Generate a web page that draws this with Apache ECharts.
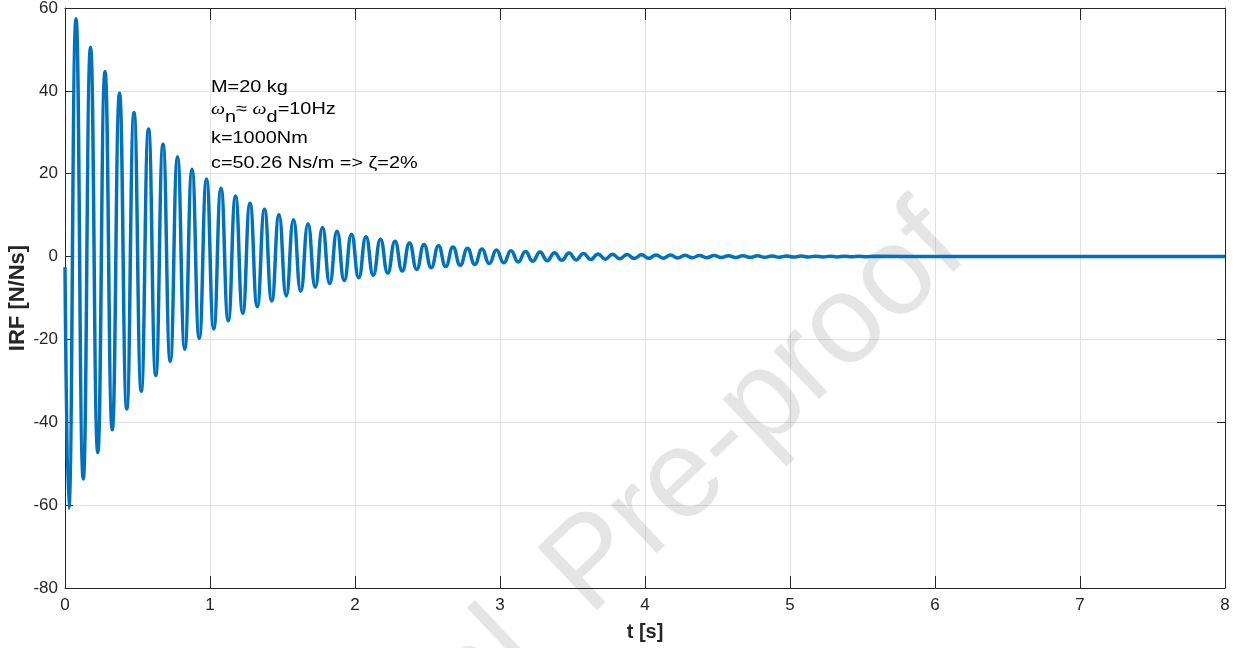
<!DOCTYPE html>
<html><head><meta charset="utf-8">
<script src="https://cdn.jsdelivr.net/npm/echarts@6/dist/echarts.min.js"></script>
<style>html,body{margin:0;padding:0;background:#fff}#c{width:1237px;height:648px}</style>
</head><body><div id="c"></div>
<script>
// ---- data ----
const xRange = [0, 8];      // t [s]
const xStep = 1;
const yRange = [-80, 60];   // IRF [N/Ns]
const yStep = 20;

const startPoint = [0, -2.6];
const troughTimes = [0.026,0.126,0.226,0.326,0.426,0.526,0.626,0.726,0.826,0.926,
  1.026,1.126,1.226,1.326,1.426,1.526,1.626,1.726,1.826,1.926,
  2.026,2.126,2.226,2.326,2.426,2.526,2.626,2.726,2.826,2.926,
  3.026,3.126,3.226,3.326,3.426,3.526,3.626,3.726,3.826,3.926,
  4.026,4.126,4.226,4.326,4.426,4.526,4.626,4.726,4.826,4.926,
  5.026,5.126,5.226,5.326,5.426,5.526];
const troughValues = [-60.7,-53.7,-47.3,-41.8,-36.8,-32.5,-28.7,-25.3,-22.4,-19.8,
  -17.5,-15.5,-13.7,-12.1,-10.7,-9.5,-8.4,-7.4,-6.5,-5.8,
  -5.1,-4.5,-4.0,-3.5,-3.1,-2.7,-2.4,-2.1,-1.9,-1.7,
  -1.5,-1.3,-1.15,-1.0,-0.9,-0.8,-0.7,-0.62,-0.55,-0.48,
  -0.43,-0.38,-0.33,-0.29,-0.26,-0.23,-0.2,-0.18,-0.16,-0.14,
  -0.12,-0.11,-0.1,-0.08,-0.07,-0.06];
const peakTimes = [0.076,0.176,0.276,0.376,0.476,0.576,0.676,0.776,0.876,0.976,
  1.076,1.176,1.276,1.376,1.476,1.576,1.676,1.776,1.876,1.976,
  2.076,2.176,2.276,2.376,2.476,2.576,2.676,2.776,2.876,2.976,
  3.076,3.176,3.276,3.376,3.476,3.576,3.676,3.776,3.876,3.976,
  4.076,4.176,4.276,4.376,4.476,4.576,4.676,4.776,4.876,4.976,
  5.076,5.176,5.276,5.376,5.476,5.576];
const peakValues = [57.4,50.5,44.7,39.4,34.8,30.8,27.1,24.1,21.1,18.7,
  16.5,14.6,12.9,11.4,10.1,8.9,7.9,7.0,6.1,5.4,
  4.8,4.2,3.7,3.3,2.9,2.6,2.3,2.0,1.8,1.6,
  1.4,1.2,1.1,0.95,0.85,0.75,0.65,0.58,0.51,0.45,
  0.4,0.35,0.31,0.28,0.24,0.21,0.19,0.17,0.15,0.13,
  0.12,0.1,0.09,0.08,0.07,0.06];
const tailPoints = [[6, 0], [8, 0]];

const annotationLines = ['M=20 kg', 'OMEGA', 'k=1000Nm', 'c=50.26 Ns/m => \u03b6=2%'];
const annotationAnchor = [1.0, 40.8];
const watermarkText = ['Journal ', 'Pre-proof'];

// ---- build series data ----
const irfData = [startPoint];
for (let i = 0; i < troughTimes.length; i++) {
  irfData.push([troughTimes[i], troughValues[i]]);
  irfData.push([peakTimes[i], peakValues[i]]);
}
tailPoints.forEach(p => irfData.push(p));

const axisColor = '#262626';
const gridColor = '#e2e2e2';
const FONT = '"Liberation Sans", Arial, Helvetica, sans-serif';

const chart = echarts.init(document.getElementById('c'), null, {renderer: 'canvas'});
const option = {
  animation: false,
  backgroundColor: '#ffffff',
  grid: {left: 65, right: 12, top: 8, bottom: 60, show: false, containLabel: false, outerBoundsMode: 'none'},
  xAxis: [{
    type: 'value', min: xRange[0], max: xRange[1], interval: xStep,
    name: 't [s]', nameLocation: 'middle', nameGap: 34, nameMoveOverlap: false,
    nameTextStyle: {color: axisColor, fontFamily: FONT, fontSize: 20, fontWeight: 'bold'},
    axisLine: {show: true, onZero: false, lineStyle: {color: axisColor, width: 1}},
    axisTick: {show: true, inside: true, length: 12, lineStyle: {color: axisColor}},
    axisLabel: {color: axisColor, fontFamily: FONT, fontSize: 17, margin: 9},
    splitLine: {show: true, lineStyle: {color: gridColor, width: 1}}
  }, {
    type: 'value', position: 'top', min: xRange[0], max: xRange[1], interval: xStep,
    axisLine: {show: true, onZero: false, lineStyle: {color: axisColor, width: 1}},
    axisTick: {show: true, inside: true, length: 12, lineStyle: {color: axisColor}},
    axisLabel: {show: false}, splitLine: {show: false}
  }],
  yAxis: [{
    type: 'value', min: yRange[0], max: yRange[1], interval: yStep,
    name: 'IRF [N/Ns]', nameLocation: 'middle', nameGap: 36, nameMoveOverlap: false,
    nameTextStyle: {color: axisColor, fontFamily: FONT, fontSize: 22, fontWeight: 'bold'},
    axisLine: {show: true, onZero: false, lineStyle: {color: axisColor, width: 1}},
    axisTick: {show: true, inside: true, length: 8, lineStyle: {color: axisColor}},
    axisLabel: {color: axisColor, fontFamily: FONT, fontSize: 17, margin: 7},
    splitLine: {show: true, lineStyle: {color: gridColor, width: 1}}
  }, {
    type: 'value', position: 'right', min: yRange[0], max: yRange[1], interval: yStep,
    axisLine: {show: true, onZero: false, lineStyle: {color: axisColor, width: 1}},
    axisTick: {show: true, inside: true, length: 8, lineStyle: {color: axisColor}},
    axisLabel: {show: false}, splitLine: {show: false}
  }],
  series: [{
    type: 'line', xAxisIndex: 0, yAxisIndex: 0,
    data: irfData, showSymbol: false, smooth: 0.5,
    lineStyle: {color: '#0072BD', width: 3.5}, itemStyle: {color: '#0072BD'},
    clip: true
  }]
};
chart.setOption(option);

const anchor = chart.convertToPixel({gridIndex: 0}, annotationAnchor);
const textBase = {fontFamily: FONT, fontSize: 17, fill: '#000', verticalAlign: 'middle', align: 'left'};
const lineOffsets = [0, 22, 51, 76];
const annChildren = annotationLines.map((t, i) => {
  if (t === 'OMEGA') {
    return {type: 'text', x: 0, y: lineOffsets[i], style: Object.assign({}, textBase, {
      text: '{w|\u03c9}{s|n}{t|\u2248 }{w|\u03c9}{s|d}{t|=10Hz}',
      rich: {
        w: {fontFamily: '"Liberation Serif", serif', fontStyle: 'italic', fontSize: 17, fill: '#000', lineHeight: 20},
        s: {fontFamily: FONT, fontSize: 17, fill: '#000', padding: [16, 0, 0, 0], lineHeight: 20},
        t: {fontFamily: FONT, fontSize: 17, fill: '#000', lineHeight: 20}
      }
    })};
  }
  return {type: 'text', x: 0, y: lineOffsets[i], style: Object.assign({}, textBase, {text: t})};
});

const wmSize = 126;
chart.setOption({
  graphic: [{
    type: 'group', x: anchor[0] + 1, y: anchor[1], scaleX: 1.17, scaleY: 1, z: 50,
    children: annChildren
  }, {
    type: 'group', x: 596, y: 624, rotation: 43.5 * Math.PI / 180, z: 100, silent: true,
    children: [
      {type: 'text', x: -28, y: -0.35 * wmSize, style: {text: watermarkText[0], fontFamily: FONT, fontSize: wmSize, fill: 'rgba(0,0,0,0.1)', align: 'right', verticalAlign: 'middle'}},
      {type: 'text', x: 0, y: -0.35 * wmSize, style: {text: watermarkText[1], fontFamily: FONT, fontSize: wmSize, fill: 'rgba(0,0,0,0.1)', align: 'left', verticalAlign: 'middle'}}
    ]
  }]
});
</script>
</body></html>
